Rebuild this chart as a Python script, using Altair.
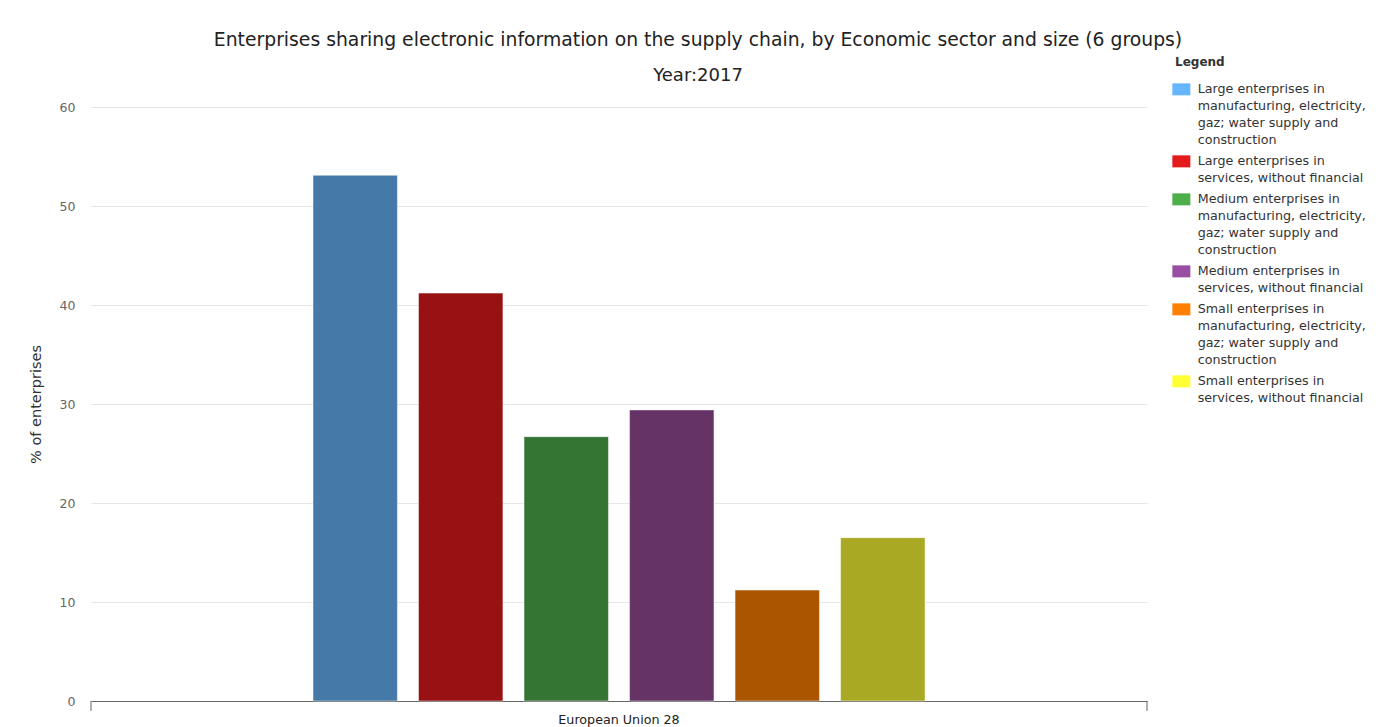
import json
import altair as alt
import pandas as pd

# ---- data ----
geo = ["European Union 28"]
groups = [
    "Large enterprises in manufacturing, electricity, gaz; water supply and construction",
    "Large enterprises in services, without financial",
    "Medium enterprises in manufacturing, electricity, gaz; water supply and construction",
    "Medium enterprises in services, without financial",
    "Small enterprises in manufacturing, electricity, gaz; water supply and construction",
    "Small enterprises in services, without financial",
]
legend_lines = [
    ["Large enterprises in", "manufacturing, electricity,", "gaz; water supply and", "construction"],
    ["Large enterprises in", "services, without financial"],
    ["Medium enterprises in", "manufacturing, electricity,", "gaz; water supply and", "construction"],
    ["Medium enterprises in", "services, without financial"],
    ["Small enterprises in", "manufacturing, electricity,", "gaz; water supply and", "construction"],
    ["Small enterprises in", "services, without financial"],
]
values = [53.1, 41.2, 26.7, 29.4, 11.2, 16.5]
bar_colors = ["#457AA8", "#981214", "#347534", "#653366", "#AB5500", "#AAA924"]
legend_colors = ["#66B5FF", "#E41A1C", "#4DAF4A", "#984EA3", "#FF7F00", "#FFFF33"]
y_ticks = [0, 10, 20, 30, 40, 50, 60]
axis_ends = [0, 1]

df = pd.DataFrame({
    "geo": geo * len(groups),
    "group": groups,
    "value": values,
    "zero": [0] * len(groups),
})
ends_df = pd.DataFrame({"end": axis_ends})

FONT = "DejaVu Sans"

label_expr = " : ".join(
    f"datum.label === {json.dumps(g)} ? {json.dumps(l)}" for g, l in zip(groups, legend_lines)
) + " : datum.label"

y_axis = alt.Axis(values=y_ticks, ticks=False, domain=False, gridColor="#e6e6e6",
                  labelColor="#666666", labelFontSize=12.5, labelPadding=16,
                  labelFont=FONT, titleFont=FONT, titleFontSize=14.5,
                  titleFontWeight="normal", titleColor="#333333", titlePadding=16)
y_scale = alt.Scale(domain=[0, 60], nice=False)

bars = alt.Chart(df).mark_bar(stroke="white", strokeWidth=1, strokeOpacity=0.45).encode(
    x=alt.X("geo:N", title=None,
            scale=alt.Scale(paddingInner=0, paddingOuter=0.334),
            axis=alt.Axis(labelAngle=0, ticks=False, grid=False, domainColor="#666666",
                          labelColor="#222222", labelFontSize=12.7,
                          labelPadding=12, labelFont=FONT)),
    xOffset=alt.XOffset("group:N", sort=groups,
                        scale=alt.Scale(paddingInner=0.2, paddingOuter=0.1)),
    y=alt.Y("value:Q", title="% of enterprises", scale=y_scale, axis=y_axis),
    color=alt.Color("group:N", sort=groups,
                    scale=alt.Scale(domain=groups, range=bar_colors), legend=None),
)

key = alt.Chart(df).mark_bar().encode(
    y=alt.Y("zero:Q", title="% of enterprises", scale=y_scale, axis=y_axis),
    color=alt.Color("group:N", sort=groups,
                    scale=alt.Scale(domain=groups, range=legend_colors),
                    legend=alt.Legend(
                        title="Legend", orient="none", legendX=1084, legendY=-50,
                        titleFont=FONT, titleFontSize=12, titleFontWeight="bold",
                        titleColor="#333333", titlePadding=14,
                        labelFont=FONT, labelFontSize=12.7, labelColor="#333333",
                        labelLimit=400, labelExpr=label_expr, labelOffset=10,
                        symbolType="M-1.5,-1H1.5V1H-1.5Z", symbolSize=144,
                        symbolStrokeWidth=0, symbolOpacity=1, rowPadding=7, padding=0)),
)

ends = alt.Chart(ends_df).mark_rule(color="#666666", strokeWidth=1).encode(
    x=alt.X("end:Q", scale=alt.Scale(domain=[0, 1], nice=False), axis=None),
    y=alt.value(594), y2=alt.value(604),
)

inner = alt.layer(bars, key).resolve_scale(color="independent")
chart = alt.layer(inner, ends).resolve_scale(x="independent").properties(
    width=1056, height=594,
    autosize=alt.AutoSizeParams(type="none"),
    padding={"left": 83, "top": 99, "right": 238, "bottom": 26},
    title=alt.TitleParams(
        text="Enterprises sharing electronic information on the supply chain, by Economic sector and size (6 groups)",
        subtitle="Year:2017", font=FONT, subtitleFont=FONT, fontSize=18.8, subtitleFontSize=18,
        fontWeight="normal", color="#222222", subtitleColor="#222222",
        anchor="middle", dx=79, offset=-28, subtitlePadding=17),
).configure_view(stroke="transparent", strokeWidth=0).configure(
    font=FONT,
    style={"guide-label": {"lineHeight": 17},
           "cell": {"stroke": "transparent", "strokeWidth": 0}})

chart.save("out.html", embed_options={"renderer": "svg", "actions": False})
